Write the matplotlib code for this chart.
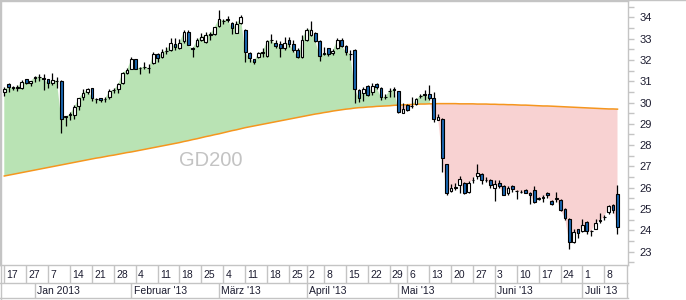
import numpy as np
import pandas as pd
import matplotlib
matplotlib.use("Agg")
import matplotlib.pyplot as plt
from matplotlib.ticker import MultipleLocator
from matplotlib.lines import Line2D

plt.rcParams['font.family'] = ['Liberation Sans', 'DejaVu Sans']

# trading days (Xetra), Dec 17 2012 - Jul 11 2013
holidays = ['2012-12-24', '2012-12-25', '2012-12-26', '2012-12-31',
            '2013-01-01', '2013-03-29', '2013-04-01', '2013-05-01']
dates = pd.bdate_range('2012-12-17', '2013-07-11')
dates = dates[~dates.isin(pd.to_datetime(holidays))]

opens = [30.50, 30.87, 30.75, 30.70, 30.69, 31.09, 30.90, 31.17, 31.20, 31.15,
         31.12, 30.90, 31.00, 31.01, 29.33, 29.40, 29.43, 29.84, 30.24, 30.49,
         30.67, 30.18, 30.20, 30.15, 30.24, 30.57, 30.62, 30.90, 31.37, 31.59,
         32.03, 31.62, 31.66, 31.60, 31.84, 32.28, 32.12, 32.42, 32.46, 32.74,
         32.54, 32.90, 33.31, 32.55, 32.65, 32.93, 32.85, 33.19, 33.20, 33.59,
         33.83, 33.89, 33.72, 33.29, 33.72, 33.43, 32.34, 32.03, 32.12, 32.35,
         32.18, 32.92, 32.78, 32.75, 32.54, 32.96, 32.75, 32.46, 32.12, 32.96,
         33.17, 33.29, 32.90, 32.30, 32.54, 32.31, 32.54, 32.96, 32.65, 32.30,
         32.46, 30.59, 30.46, 30.77, 30.51, 30.87, 30.67, 30.26, 30.54, 30.63,
         30.55, 29.52, 29.88, 29.82, 29.93, 30.29, 30.34, 30.40, 30.20, 29.18,
         29.21, 27.10, 25.85, 25.98, 26.11, 26.22, 25.80, 26.36, 26.54, 26.65,
         26.36, 26.37, 26.00, 26.23, 26.08, 25.73, 26.07, 25.86, 25.79, 25.88,
         25.76, 25.88, 25.49, 25.54, 25.77, 25.39, 25.49, 25.42, 24.99, 24.53,
         23.43, 24.04, 23.97, 24.38, 23.98, 24.08, 24.42, 24.62, 24.84, 25.19,
         25.70]
highs = [30.72, 30.90, 30.80, 30.82, 31.05, 31.12, 31.00, 31.24, 31.34, 31.34,
         31.12, 31.37, 31.18, 31.05, 29.38, 29.57, 29.87, 30.20, 30.62, 30.70,
         30.67, 30.20, 30.22, 30.24, 30.62, 30.67, 30.90, 31.45, 31.60, 32.15,
         32.05, 31.68, 31.92, 31.80, 32.36, 32.34, 32.50, 32.62, 33.01, 33.01,
         32.98, 33.40, 33.40, 32.62, 33.01, 33.29, 33.32, 33.32, 33.56, 34.34,
         33.92, 34.07, 33.79, 33.84, 34.11, 33.45, 32.38, 32.06, 32.38, 32.57,
         32.96, 33.21, 32.93, 32.90, 33.10, 33.09, 32.93, 32.54, 33.17, 33.48,
         33.84, 33.32, 32.93, 32.62, 32.55, 32.50, 33.01, 33.01, 32.70, 32.45,
         32.50, 30.62, 30.74, 30.82, 30.90, 30.93, 30.72, 30.40, 30.67, 30.74,
         30.55, 29.96, 29.93, 30.27, 30.20, 30.38, 30.59, 30.82, 30.51, 29.48,
         29.26, 27.10, 26.19, 26.22, 26.53, 26.26, 26.31, 26.50, 27.10, 26.68,
         26.50, 26.42, 26.34, 26.34, 26.11, 26.07, 26.11, 25.91, 25.88, 25.96,
         25.80, 26.07, 25.58, 25.65, 25.80, 25.42, 25.80, 25.45, 25.04, 24.58,
         24.07, 24.07, 24.53, 24.43, 24.00, 24.53, 24.81, 24.73, 25.19, 25.24,
         26.11]
lows = [30.32, 30.50, 30.60, 30.55, 30.65, 30.86, 30.79, 30.95, 31.00, 30.59,
        30.70, 30.81, 30.70, 28.55, 28.90, 29.18, 29.25, 29.65, 30.12, 30.40,
        30.09, 29.96, 30.04, 30.04, 30.18, 30.43, 30.43, 30.85, 31.34, 31.56,
        31.56, 31.32, 31.56, 31.40, 31.81, 31.92, 32.07, 32.28, 32.43, 32.46,
        32.51, 32.82, 32.68, 32.12, 32.62, 32.90, 32.81, 32.93, 33.15, 33.56,
        33.68, 33.79, 33.20, 33.25, 33.68, 31.92, 31.92, 31.80, 32.07, 32.15,
        32.15, 32.78, 32.54, 32.12, 32.46, 32.62, 32.37, 32.07, 32.07, 32.90,
        33.12, 32.85, 31.96, 32.23, 32.18, 32.23, 32.50, 32.62, 32.23, 31.99,
        29.96, 30.02, 30.09, 30.30, 30.35, 30.66, 30.12, 30.15, 30.24, 30.27,
        29.49, 29.49, 29.60, 29.73, 29.88, 30.20, 30.12, 30.12, 29.10, 29.18,
        26.75, 25.65, 25.80, 25.88, 25.76, 25.70, 25.73, 26.22, 26.42, 26.19,
        26.26, 26.00, 25.39, 26.00, 25.65, 25.68, 25.80, 25.45, 25.73, 25.73,
        25.22, 25.27, 25.42, 25.35, 25.50, 25.19, 25.35, 24.89, 24.50, 23.13,
        23.40, 23.62, 23.92, 23.81, 23.74, 24.04, 24.32, 24.50, 24.78, 24.81,
        23.81]
closes = [30.65, 30.71, 30.70, 30.72, 30.98, 30.90, 31.00, 31.20, 31.22, 31.12,
          30.90, 31.06, 31.02, 29.21, 29.35, 29.45, 29.80, 30.20, 30.43, 30.62,
          30.23, 30.15, 30.10, 30.18, 30.54, 30.59, 30.85, 31.40, 31.52, 32.03,
          31.59, 31.64, 31.68, 31.61, 32.28, 32.07, 32.39, 32.44, 32.78, 32.62,
          32.81, 33.31, 32.68, 32.53, 32.93, 33.09, 33.17, 33.21, 33.53, 33.92,
          33.85, 33.91, 33.48, 33.68, 34.00, 32.36, 32.07, 31.92, 32.34, 32.37,
          32.89, 32.94, 32.67, 32.57, 32.81, 32.75, 32.46, 32.12, 32.96, 33.43,
          33.43, 32.90, 32.18, 32.32, 32.28, 32.43, 32.93, 32.67, 32.38, 32.28,
          30.62, 30.20, 30.62, 30.35, 30.77, 30.71, 30.24, 30.28, 30.56, 30.61,
          29.57, 29.68, 29.65, 29.84, 30.15, 30.31, 30.40, 30.20, 29.21, 29.33,
          27.38, 25.73, 26.00, 26.04, 26.42, 25.76, 26.22, 26.38, 26.69, 26.37,
          26.38, 26.14, 26.16, 26.08, 25.68, 25.99, 25.94, 25.84, 25.81, 25.76,
          25.65, 25.35, 25.51, 25.56, 25.65, 25.24, 25.51, 24.96, 24.58, 23.43,
          23.92, 23.86, 24.27, 23.97, 23.96, 24.35, 24.48, 24.64, 25.12, 24.96,
          24.17]
gd200 = [26.55, 26.59, 26.63, 26.67, 26.71, 26.75, 26.79, 26.83, 26.87, 26.91,
         26.95, 26.99, 27.03, 27.07, 27.11, 27.15, 27.19, 27.23, 27.27, 27.31,
         27.35, 27.39, 27.42, 27.46, 27.50, 27.53, 27.57, 27.61, 27.65, 27.68,
         27.72, 27.76, 27.80, 27.84, 27.88, 27.92, 27.96, 28.00, 28.04, 28.08,
         28.12, 28.17, 28.21, 28.26, 28.30, 28.35, 28.40, 28.44, 28.49, 28.53,
         28.58, 28.63, 28.68, 28.72, 28.77, 28.82, 28.86, 28.90, 28.94, 28.98,
         29.02, 29.06, 29.10, 29.14, 29.18, 29.22, 29.26, 29.30, 29.34, 29.38,
         29.42, 29.46, 29.49, 29.53, 29.56, 29.60, 29.63, 29.66, 29.69, 29.71,
         29.74, 29.76, 29.77, 29.79, 29.80, 29.82, 29.83, 29.84, 29.85, 29.87,
         29.88, 29.89, 29.90, 29.91, 29.92, 29.93, 29.93, 29.94, 29.94, 29.95,
         29.95, 29.95, 29.95, 29.95, 29.94, 29.94, 29.94, 29.94, 29.93, 29.93,
         29.93, 29.92, 29.92, 29.91, 29.91, 29.90, 29.90, 29.89, 29.88, 29.88,
         29.87, 29.86, 29.85, 29.84, 29.84, 29.83, 29.82, 29.81, 29.80, 29.79,
         29.78, 29.77, 29.76, 29.75, 29.74, 29.73, 29.72, 29.71, 29.70, 29.70,
         29.69]

tick_days = ['2012-12-17', '2012-12-27', '2013-01-07', '2013-01-14', '2013-01-21',
             '2013-01-28', '2013-02-04', '2013-02-11', '2013-02-18', '2013-02-25',
             '2013-03-04', '2013-03-11', '2013-03-18', '2013-03-25', '2013-04-02',
             '2013-04-08', '2013-04-15', '2013-04-22', '2013-04-29', '2013-05-06',
             '2013-05-13', '2013-05-20', '2013-05-27', '2013-06-03', '2013-06-10',
             '2013-06-17', '2013-06-24', '2013-07-01', '2013-07-08']
month_days = ['2013-01-02', '2013-02-01', '2013-03-01', '2013-04-02',
              '2013-05-02', '2013-06-03', '2013-07-01']
month_names = ['Jan 2013', "Februar '13", "März '13", "April '13",
               "Mai '13", "Juni '13", "Juli '13"]

o = np.array(opens); h = np.array(highs); l = np.array(lows); c = np.array(closes)
ma = np.array(gd200)
idx = np.arange(len(dates))

fig = plt.figure(figsize=(6.86, 3.0), dpi=100)
ax = fig.add_axes([0, 35 / 300, 628 / 686, 264 / 300])

green = '#b9e3b4'
red = '#f8d2d2'
blue = '#1a66b0'
grey = '#c4c4c4'
txt = '#1c1c30'

ax.fill_between(idx, c, ma, where=c >= ma, interpolate=True, color=green, lw=0, zorder=1)
ax.fill_between(idx, c, ma, where=c < ma, interpolate=True, color=red, lw=0, zorder=1)
ax.plot(idx, ma, color='#f5961e', lw=1.1, zorder=2)

# candles
up = c >= o
ax.vlines(idx, l, h, color='black', lw=0.9, zorder=3)
body = np.maximum(np.abs(c - o), 0.02)
ax.bar(idx, body, bottom=np.minimum(o, c), width=0.62,
       color=np.where(up, 'white', blue), edgecolor='black', linewidth=0.8, zorder=4)

ax.text(47.2, 27.3, 'GD200', color='#c3c3c3', fontsize=14.5, ha='center', va='center')

x0, x1 = -0.98, 142.4
ax.set_xlim(x0, x1)
ax.set_ylim(22.37, 34.77)

ax.yaxis.tick_right()
ax.yaxis.set_major_locator(MultipleLocator(1))
ax.yaxis.set_minor_locator(MultipleLocator(0.5))
ax.tick_params(axis='y', which='both', direction='out', length=4, width=1,
               color=grey, labelsize=8, labelcolor=txt, pad=4)
ax.set_xticks([])
for s in ax.spines.values():
    s.set_color(grey)
    s.set_linewidth(1)

# date bands below the plot
pos = {d: i for i, d in enumerate(dates.strftime('%Y-%m-%d'))}
tpos = [pos[d] for d in tick_days]
mpos = [pos[d] for d in month_days]
tr = ax.get_xaxis_transform()
r1 = -18 / 264
r2 = -33 / 264
ax.vlines(tpos + [x1 - 0.2], r1, 0, transform=tr, color=grey, lw=1, clip_on=False)
ax.vlines(mpos + [x1 - 0.2], r2, r1, transform=tr, color=grey, lw=1, clip_on=False)
ax.plot([x0, x1], [r1, r1], transform=tr, color=grey, lw=1, clip_on=False)
ax.plot([x0, x1], [r2, r2], transform=tr, color=grey, lw=1, clip_on=False)
for p, d in zip(tpos, tick_days):
    ax.text(p + 0.5, -9.5 / 264, str(int(d[-2:])), transform=tr, fontsize=7.5,
            color=txt, ha='left', va='center')
for p, name in zip(mpos, month_names):
    ax.text(p + 0.5, -25.5 / 264, name, transform=tr, fontsize=7.5,
            color=txt, ha='left', va='center')

fig.add_artist(Line2D([0, 1], [0.9985, 0.9985], transform=fig.transFigure, color=grey, lw=1))
fig.add_artist(Line2D([0.0008, 0.0008], [0, 1], transform=fig.transFigure, color=grey, lw=1))

fig.savefig('out.png', dpi=100)
